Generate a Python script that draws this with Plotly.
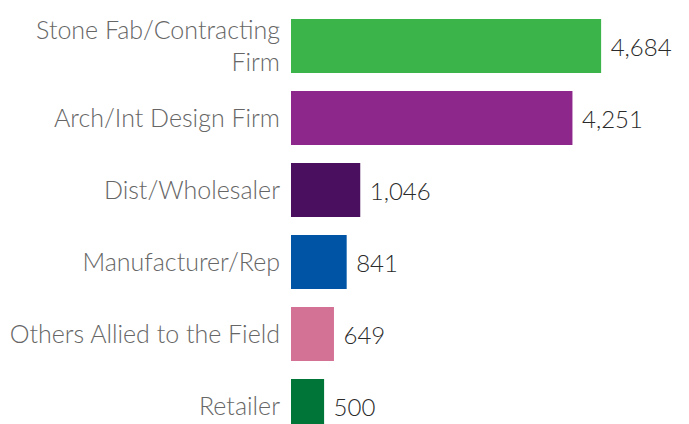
import plotly.graph_objects as go

categories = ["Stone Fab/Contracting<br>Firm", "Arch/Int Design Firm", "Dist/Wholesaler",
              "Manufacturer/Rep", "Others Allied to the Field", "Retailer"]
values = [4684, 4251, 1046, 841, 649, 500]
colors = ["#3bb54a", "#8e278c", "#4a0f5e", "#0054a6", "#d47295", "#007538"]

fig = go.Figure(go.Bar(
    y=categories, x=values, orientation="h",
    marker=dict(color=colors, line=dict(width=0)),
    width=0.75,
    text=values, texttemplate=" %{x:,}", textposition="outside",
    textfont=dict(family="Lato", size=24, color="#2a2a2a", weight=300),
    cliponaxis=False,
))
fig.update_layout(
    width=681, height=416,
    margin=dict(l=283, r=14, t=2, b=0, autoexpand=False),
    paper_bgcolor="white", plot_bgcolor="white",
    showlegend=False,
    xaxis=dict(range=[0, 5800], visible=False, fixedrange=True),
    yaxis=dict(range=[5.25, -0.5], showgrid=False, zeroline=False, showline=False,
               ticks="", ticklabelstandoff=10, automargin=False,
               tickfont=dict(family="Lato", size=25, color="#666666", weight=300)),
)
fig.write_html("out.html")
